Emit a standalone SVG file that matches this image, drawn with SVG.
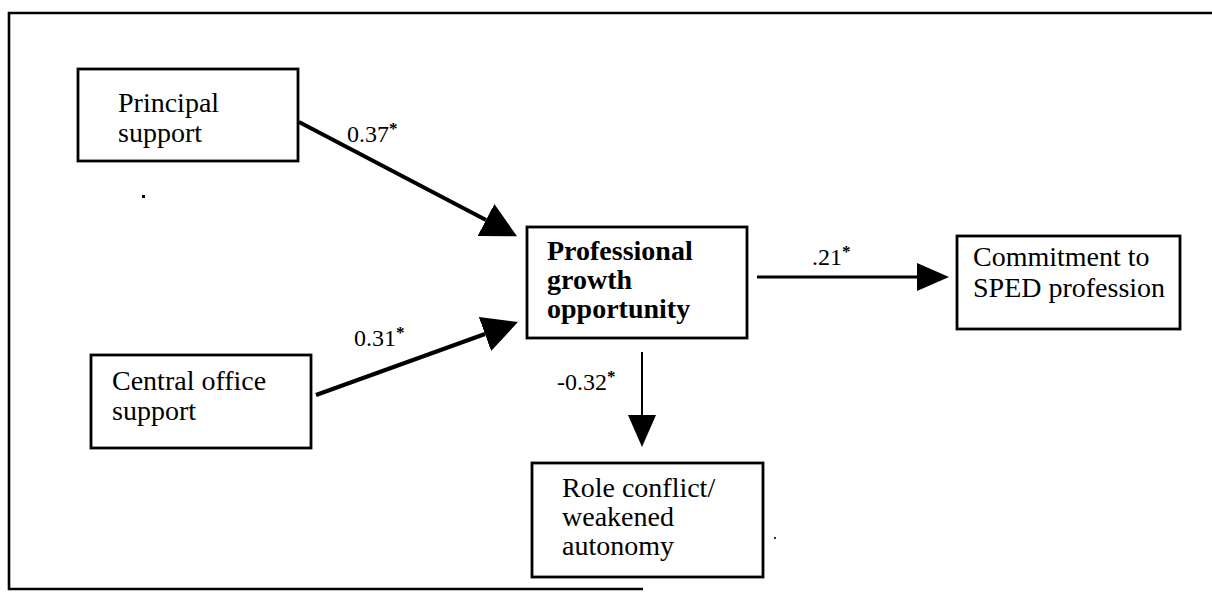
<svg xmlns="http://www.w3.org/2000/svg" width="1212" height="597" viewBox="0 0 1212 597">
  <style>
    .box { fill: #fff; stroke: #000; stroke-width: 2.8; }
    .txt { font-family: "Liberation Serif", "Times New Roman", serif; font-size: 28px; fill: #000; }
    .bold { font-weight: bold; font-size: 28px; }
    .lbl { font-family: "Liberation Serif", "Times New Roman", serif; font-size: 24px; fill: #000; }
    .star { font-size: 17px; font-weight: bold; }
    .edge { fill: none; stroke: #000; }
    .frame { fill: none; stroke: #000; stroke-width: 2.6; }
  </style>
  <defs>
    <marker id="headL" markerUnits="userSpaceOnUse" markerWidth="36" markerHeight="38" viewBox="0 -19 36 38" refX="0" refY="0" orient="auto">
      <path d="M0,-18 L35,0 L0,18 Z" fill="#000"/>
    </marker>
    <marker id="headS" markerUnits="userSpaceOnUse" markerWidth="33" markerHeight="30" viewBox="0 -15 33 30" refX="0" refY="0" orient="auto">
      <path d="M0,-14 L32,0 L0,14 Z" fill="#000"/>
    </marker>
  </defs>

  <rect width="1212" height="597" fill="#fff"/>

  <!-- outer frame (open on the right) -->
  <g id="frame">
    <path class="frame" d="M1212,13 L9,13 L9,589 L643,589"/>
    <rect x="142" y="195" width="3" height="3" fill="#000"/>
    <rect x="774" y="537" width="2" height="2" fill="#333"/>
  </g>

  <g id="connectors">
    <line class="edge" x1="299" y1="122" x2="486" y2="220" stroke-width="4" marker-end="url(#headL)"/>
    <line class="edge" x1="316" y1="395" x2="485" y2="334" stroke-width="4" marker-end="url(#headL)"/>
    <line class="edge" x1="757" y1="277" x2="917" y2="277" stroke-width="3" marker-end="url(#headS)"/>
    <line class="edge" x1="642" y1="352" x2="642" y2="415" stroke-width="2" marker-end="url(#headS)"/>
    <text class="lbl" x="347" y="142">0.37<tspan class="star" dy="-8">*</tspan></text>
    <text class="lbl" x="354" y="346">0.31<tspan class="star" dy="-8">*</tspan></text>
    <text class="lbl" x="812" y="265">.21<tspan class="star" dy="-8">*</tspan></text>
    <text class="lbl" x="557" y="390">-0.32<tspan class="star" dy="-8">*</tspan></text>
  </g>

  <g id="principal">
    <rect class="box" x="78" y="69" width="220" height="92"/>
    <text class="txt" x="118" y="112">Principal</text>
    <text class="txt" x="118" y="142">support</text>
  </g>

  <g id="central">
    <rect class="box" x="91" y="355" width="220" height="93"/>
    <text class="txt" x="112" y="390">Central office</text>
    <text class="txt" x="112" y="420">support</text>
  </g>

  <g id="growth">
    <rect class="box" x="527" y="227" width="220" height="111"/>
    <text class="txt bold" x="547" y="260">Professional</text>
    <text class="txt bold" x="547" y="289">growth</text>
    <text class="txt bold" x="547" y="318">opportunity</text>
  </g>

  <g id="commitment">
    <rect class="box" x="957" y="236" width="223" height="93"/>
    <text class="txt" x="973" y="266">Commitment to</text>
    <text class="txt" x="973" y="297">SPED profession</text>
  </g>

  <g id="role">
    <rect class="box" x="532" y="463" width="231" height="114"/>
    <text class="txt" x="562" y="497">Role conflict/</text>
    <text class="txt" x="562" y="526">weakened</text>
    <text class="txt" x="562" y="555">autonomy</text>
  </g>
</svg>
